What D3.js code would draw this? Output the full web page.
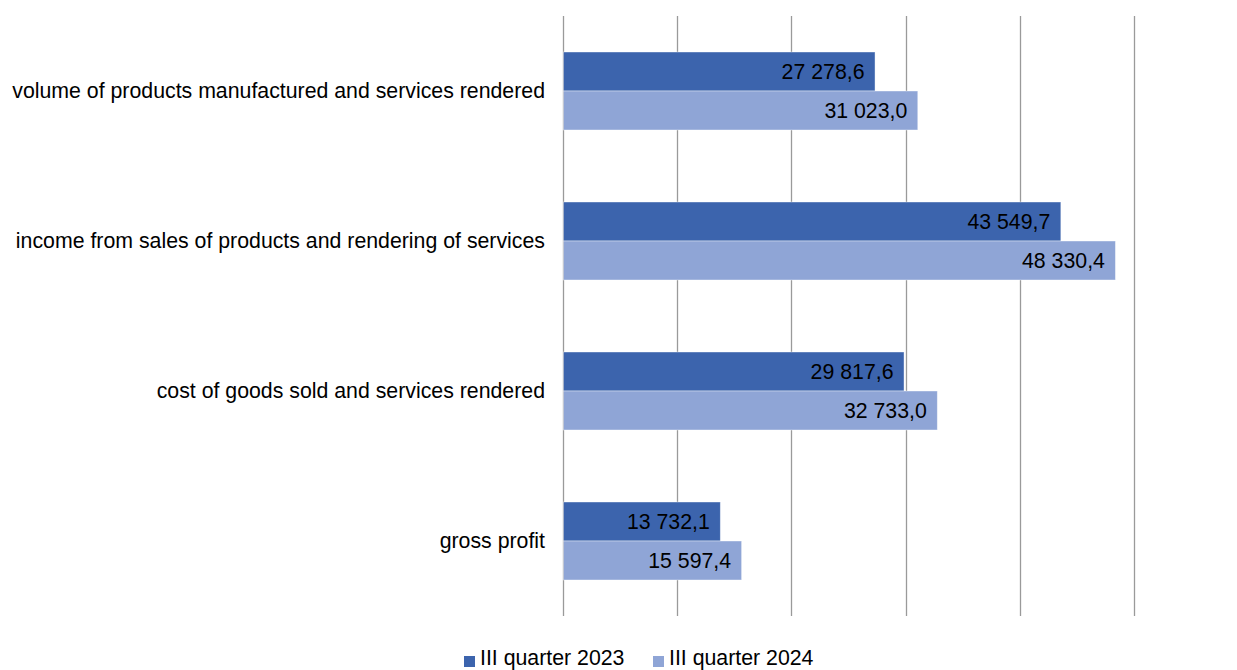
<!DOCTYPE html>
<html>
<head>
<meta charset="utf-8">
<script src="https://cdn.jsdelivr.net/npm/d3@7"></script>
<style>
  body { margin: 0; background: #fff; }
  text { font-family: "Liberation Sans", Arial, sans-serif; }
</style>
</head>
<body>
<div id="chart"></div>
<script>
// chart data
var categories = [
  "volume of products manufactured and services rendered",
  "income from sales of products and rendering of services",
  "cost of goods sold and services rendered",
  "gross profit"
];
var seriesNames = ["III quarter 2023", "III quarter 2024"];
var q2023 = [27278.6, 43549.7, 29817.6, 13732.1];
var q2024 = [31023.0, 48330.4, 32733.0, 15597.4];
var xTicks = [0, 10000, 20000, 30000, 40000, 50000];

var colors = ["#3c64ad", "#8fa5d6"];
var fontSize = 21.3;

var svgWidth = 1237, svgHeight = 670;
var margin = { top: 16, left: 563, right: 103, bottom: 54 };
var width = svgWidth - margin.left - margin.right;
var height = svgHeight - margin.top - margin.bottom;

var svg = d3.select("#chart").append("svg")
  .attr("width", svgWidth)
  .attr("height", svgHeight);

var g = svg.append("g")
  .attr("transform", `translate(${margin.left}, ${margin.top})`);

var xScale = d3.scaleLinear().domain([0, 50000]).range([0, 571]);

var yScale = d3.scaleBand().domain(categories).range([0, height]).paddingInner(0.48).paddingOuter(0.24);
var inner = d3.scaleBand().domain([0, 1]).range([0, yScale.bandwidth()]);

// gridlines
g.selectAll(".grid")
  .data(xTicks)
  .enter().append("line")
  .attr("x1", d => Math.round(xScale(d)) + 0.5)
  .attr("x2", d => Math.round(xScale(d)) + 0.5)
  .attr("y1", 0)
  .attr("y2", height)
  .attr("stroke", "#9a9a9a")
  .attr("stroke-width", 1.3);

var rows = categories.map((c, i) => ({ cat: c, vals: [q2023[i], q2024[i]] }));

var groups = g.selectAll(".cat")
  .data(rows)
  .enter().append("g")
  .attr("transform", d => `translate(0, ${yScale(d.cat)})`);

groups.selectAll("rect")
  .data(d => d.vals)
  .enter().append("rect")
  .attr("x", xScale(0) + 0.5)
  .attr("y", (d, i) => inner(i))
  .attr("width", d => xScale(d) - xScale(0))
  .attr("height", inner.bandwidth())
  .attr("fill", (d, i) => colors[i])
  .attr("stroke", "#ffffff")
  .attr("stroke-opacity", 0.5)
  .attr("stroke-width", 0.8);

var fmt = v => d3.format(",.1f")(v).replace(",", " ").replace(".", ",");

groups.selectAll(".val")
  .data(d => d.vals)
  .enter().append("text")
  .attr("x", d => xScale(d) - 10)
  .attr("y", (d, i) => inner(i) + inner.bandwidth() / 2)
  .attr("dy", "0.34em")
  .attr("text-anchor", "end")
  .attr("font-size", fontSize)
  .attr("fill", "#000")
  .text(fmt);

// category labels
g.selectAll(".catlabel")
  .data(categories)
  .enter().append("text")
  .attr("x", -18)
  .attr("y", d => yScale(d) + yScale.bandwidth() / 2)
  .attr("dy", "0.32em")
  .attr("text-anchor", "end")
  .attr("font-size", fontSize)
  .attr("fill", "#000")
  .text(d => d);

// legend (sits at the very bottom edge)
var legendX = [464, 653];
var legend = svg.selectAll(".legend")
  .data(seriesNames)
  .enter().append("g")
  .attr("transform", (d, i) => `translate(${legendX[i]}, 665)`);

legend.append("rect")
  .attr("x", 0).attr("y", -9)
  .attr("width", 11).attr("height", 11)
  .attr("fill", (d, i) => colors[i]);

legend.append("text")
  .attr("x", 16)
  .attr("y", 0)
  .attr("font-size", fontSize)
  .attr("fill", "#000")
  .text(d => d);
</script>
</body>
</html>
